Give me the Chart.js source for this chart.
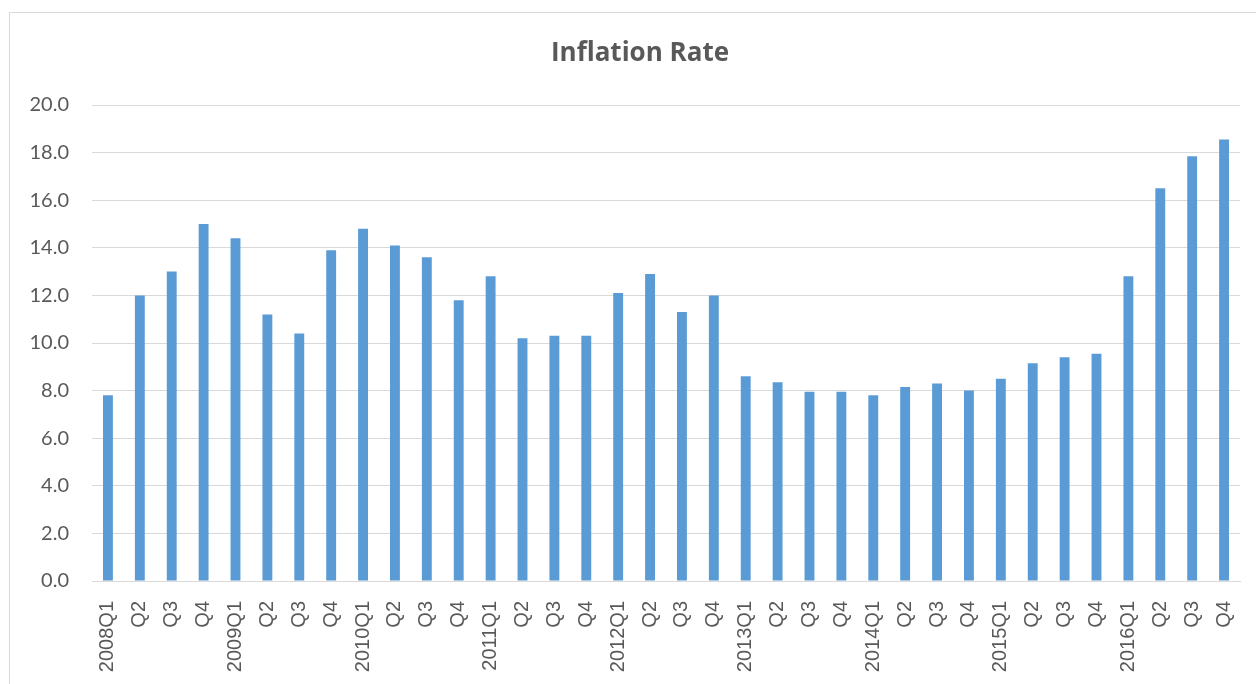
<!DOCTYPE html>
<html>
<head>
<meta charset="utf-8">
<script src="https://cdn.jsdelivr.net/npm/chart.js@4.4.0/dist/chart.umd.min.js"></script>
<style>
  html, body { margin: 0; padding: 0; background: #fff; overflow: hidden; }
  #frame { position: absolute; left: 9px; top: 12px; width: 1300px; height: 700px; border: 1px solid #d9d9d9; box-sizing: border-box; }
  #wrap { position: absolute; left: 0; top: 0; width: 1256px; height: 684px; }
</style>
</head>
<body>
<div id="frame"></div>
<div id="wrap"><canvas id="c" width="1256" height="684"></canvas></div>
<script>
const categories = [
  "2008Q1","Q2","Q3","Q4",
  "2009Q1","Q2","Q3","Q4",
  "2010Q1","Q2","Q3","Q4",
  "2011Q1","Q2","Q3","Q4",
  "2012Q1","Q2","Q3","Q4",
  "2013Q1","Q2","Q3","Q4",
  "2014Q1","Q2","Q3","Q4",
  "2015Q1","Q2","Q3","Q4",
  "2016Q1","Q2","Q3","Q4"
];
const inflationRate = [
  7.8, 12.0, 13.0, 15.0,
  14.4, 11.2, 10.4, 13.9,
  14.8, 14.1, 13.6, 11.8,
  12.8, 10.2, 10.3, 10.3,
  12.1, 12.9, 11.3, 12.0,
  8.6, 8.35, 7.95, 7.95,
  7.8, 8.15, 8.3, 8.0,
  8.5, 9.15, 9.4, 9.55,
  12.8, 16.5, 17.85, 18.55
];
const yTicks = { min: 0, max: 20, step: 2 };
const chartTitle = "Inflation Rate";

const textColor = "#595959";

// Centre the title over the bordered chart frame rather than the padded canvas
const titleShift = {
  id: "titleShift",
  afterLayout(chart) {
    if (chart.titleBlock) {
      chart.titleBlock.left = 24;
      chart.titleBlock.right = 1256;
    }
  }
};

new Chart(document.getElementById("c"), {
  type: "bar",
  data: {
    labels: categories,
    datasets: [{
      label: chartTitle,
      data: inflationRate,
      backgroundColor: "#5B9BD5",
      borderWidth: 0,
      barPercentage: 0.31,
      categoryPercentage: 1.0
    }]
  },
  plugins: [titleShift],
  options: {
    responsive: false,
    animation: false,
    layout: { padding: { left: 0, right: 16, top: 0, bottom: 0 } },
    plugins: {
      legend: { display: false },
      tooltip: { enabled: false },
      title: {
        display: true,
        text: chartTitle,
        color: textColor,
        font: { family: "Open Sans", size: 26, weight: "bold", lineHeight: 1.2 },
        padding: { top: 38, bottom: 35.8 }
      }
    },
    scales: {
      x: {
        grid: { display: false, drawTicks: false },
        border: { display: true, color: "#d9d9d9", width: 1 },
        ticks: {
          color: textColor,
          font: { family: "Liberation Sans", size: 20 },
          minRotation: 90, maxRotation: 90,
          autoSkip: false,
          padding: 20
        },
        afterFit: (s) => { s.height = 103; s.paddingLeft = 0; s.paddingRight = 0; }
      },
      y: {
        min: yTicks.min, max: yTicks.max,
        grid: { color: "#d9d9d9", lineWidth: 1, drawTicks: false },
        border: { display: false },
        ticks: {
          stepSize: yTicks.step,
          color: textColor,
          font: { family: "Lato", size: 20 },
          padding: 23,
          callback: (v) => Number(v).toFixed(1)
        },
        afterFit: (s) => { s.width = 92; s.paddingTop = 0; s.paddingBottom = 0; }
      }
    }
  }
});
</script>
</body>
</html>
